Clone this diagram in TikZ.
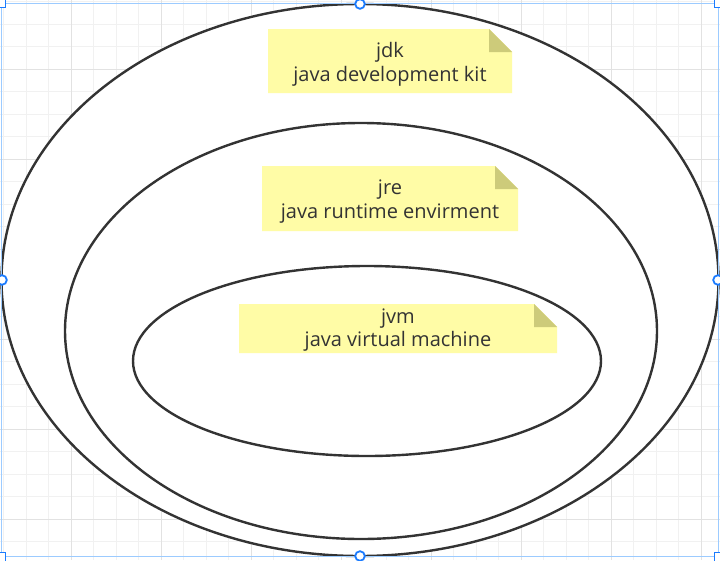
\documentclass[tikz,border=0pt]{standalone}
\usepackage{fontspec}
\setmainfont{Open Sans}
\definecolor{gridminor}{HTML}{F1F1F1}
\definecolor{gridmajor}{HTML}{E2E2E2}
\definecolor{ink}{HTML}{333333}
\definecolor{notefill}{HTML}{FFFCA6}
\definecolor{notefold}{HTML}{CDCB7A}
\definecolor{selline}{HTML}{9CCBFF}
\definecolor{handle}{HTML}{1A7BFF}
\begin{document}
\begin{tikzpicture}[x=1pt,y=-1pt,
  ring/.style={draw=ink,line width=2.4pt,fill=white},
  notetext/.style={text=ink,align=center,inner sep=0pt,font=\fontsize{20}{23.5}\selectfont},
  midhandle/.style={draw=handle,line width=1.8pt,fill=white},
  cornerhandle/.style={draw=handle,line width=1.8pt,fill=white}]
\useasboundingbox (0,0) rectangle (720,560);
\fill[white] (0,0) rectangle (720,560);
% grid
\foreach \i in {0,...,31} {
  \draw[gridminor,line width=1pt] ({3.5+22.5*\i},0) -- ({3.5+22.5*\i},560);
  \draw[gridminor,line width=1pt] (0,{1.5+22.5*\i}) -- (720,{1.5+22.5*\i});
}
\foreach \j in {0,...,7} {
  \draw[gridmajor,line width=1pt] ({71+90*\j},0) -- ({71+90*\j},560);
  \draw[gridmajor,line width=1pt] (0,{69+90*\j}) -- (720,{69+90*\j});
}
% ellipses
\draw[ring] (360,280) ellipse [x radius=358.5, y radius=276];
\draw[ring] (361,331) ellipse [x radius=296, y radius=208];
\draw[ring] (367,361) ellipse [x radius=234, y radius=95];
% notes
\newcommand{\drawnote}[5]{% name, x1,y1,x2,y2
  \fill[notefill] (#2,#3) -- ({#4-23},#3) -- (#4,{#3+23}) -- (#4,#5) -- (#2,#5) -- cycle;
  \fill[notefold] ({#4-23},#3) -- (#4,{#3+23}) -- ({#4-23},{#3+23}) -- cycle;
  \coordinate (#1) at ({(#2+#4)/2},{(#3+#5)/2});
}
\drawnote{jdkbox}{268}{29}{512}{93}
\drawnote{jrebox}{262}{166}{518}{231}
\drawnote{jvmbox}{239}{304}{557}{353}
\node[notetext] (jdk) at (390,64.3) {jdk\\java development kit};
\node[notetext] (jre) at (390,201.4) {jre\\java runtime envirment};
\node[notetext] (jvm) at (398,329.9) {jvm\\java virtual machine};
% selection frame and handles
\draw[selline,line width=1pt] (1,3) rectangle (718.5,556.5);
\foreach \p/\q in {1/3,719/3,1/557,719/557}
  \draw[cornerhandle] ({\p-4.5},{\q-4.5}) rectangle ({\p+4.5},{\q+4.5});
\foreach \p/\q in {360/4,2/280,718/280,360/556}
  \draw[midhandle] (\p,\q) circle (4.8);
\end{tikzpicture}
\end{document}
